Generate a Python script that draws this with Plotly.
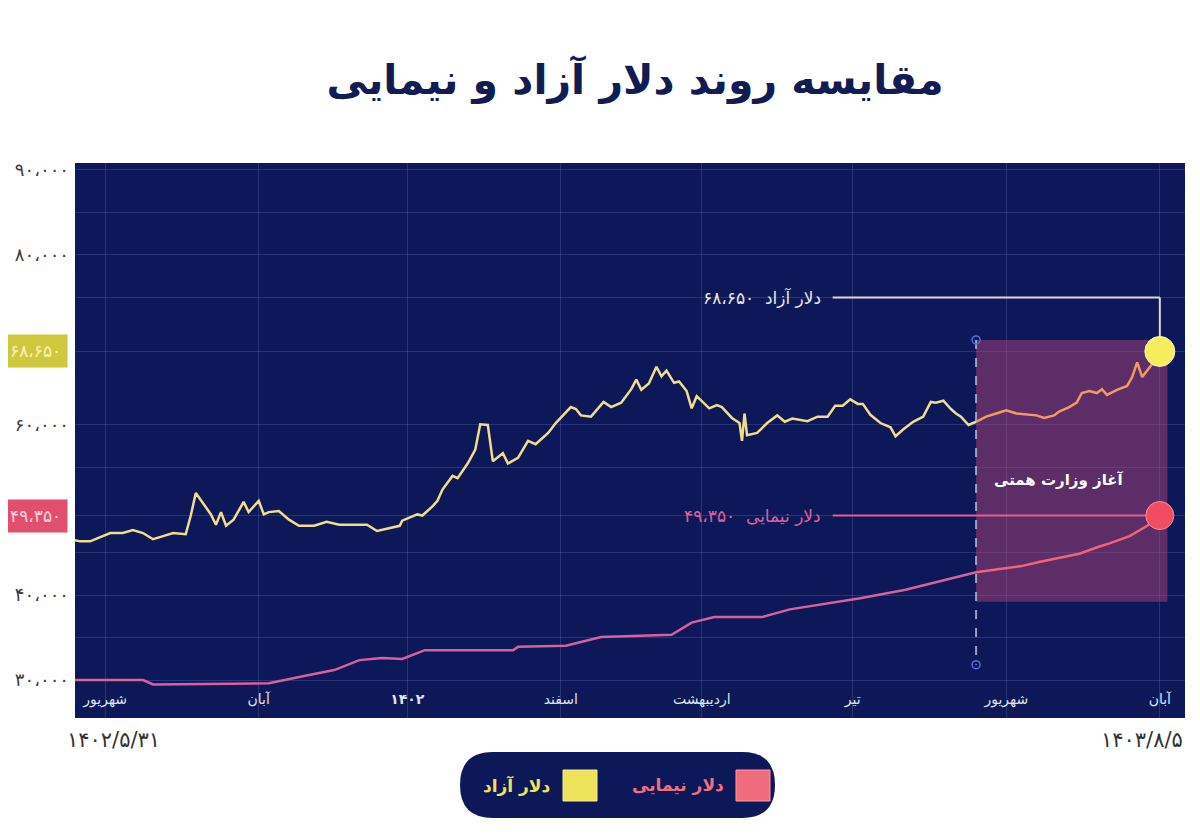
import plotly.graph_objects as go

# days counted from 1402/5/31, values in toman
free_days = [0, 2, 6, 11, 14, 19, 23, 27, 31, 35,
             39, 44, 46, 48, 51, 54, 56, 58, 60, 63,
             67, 69, 73, 75, 77, 81, 85, 89, 95, 100,
             105, 110, 116, 120, 124, 129, 130, 136, 138, 142,
             144, 146, 150, 152, 156, 159, 161, 164, 166, 170,
             172, 176, 180, 183, 188, 191, 197, 199, 201, 205,
             210, 213, 217, 221, 223, 225, 228, 231, 233, 235,
             238, 240, 243, 245, 247, 252, 255, 257, 261, 264,
             265, 266, 267, 271, 275, 279, 282, 285, 291, 295,
             299, 302, 305, 308, 311, 313, 316, 320, 324, 326,
             329, 333, 337, 340, 342, 345, 348, 350, 352, 355,
             358, 362, 366, 370, 374, 378, 382, 385, 389, 391,
             395, 398, 400, 403, 406, 408, 410, 414, 418, 420,
             422, 424, 427, 430, 431]
free_rate = [46440, 46310, 46310, 46920, 47290, 47290, 47650, 47290, 46560, 46920,
             47290, 47160, 49350, 52010, 50810, 49480, 48260, 49750, 48140, 48860,
             50950, 49750, 51080, 49480, 49750, 49880, 48860, 48140, 48140, 48620,
             48260, 48260, 48260, 47530, 47770, 48140, 48740, 49480, 49350, 50420,
             51080, 52410, 54010, 53740, 55470, 57070, 60080, 60000, 55740, 56670,
             55470, 56140, 58140, 57740, 59070, 60230, 62110, 61880, 61130, 60980,
             62710, 62110, 62630, 64210, 65340, 64140, 64890, 66850, 65720, 66390,
             64960, 65120, 63990, 61960, 63390, 61960, 62330, 62110, 60830, 60230,
             58140, 61350, 58800, 59070, 60230, 61130, 60380, 60750, 60450, 60980,
             60980, 62260, 62260, 63010, 62480, 62480, 61200, 60230, 59730, 58670,
             59470, 60380, 60980, 62710, 62630, 62860, 61880, 61350, 60980, 60000,
             60380, 60980, 61350, 61730, 61350, 61200, 61130, 60830, 61130, 61580,
             62110, 62630, 63760, 63990, 63760, 64210, 63540, 64140, 64590, 65640,
             67370, 65640, 66850, 67970, 68650]

nima_days = [0, 27, 31, 77, 92, 103, 113, 122, 130, 139,
             174, 176, 195, 209, 237, 245, 254, 273, 284, 312,
             330, 358, 376, 383, 399, 407, 411, 419, 426, 431]
nima_rate = [30000, 30000, 29480, 29610, 30520, 31170, 32340, 32600, 32470, 33510,
             33510, 33900, 34030, 35060, 35320, 36750, 37400, 37400, 38310, 39610,
             40610, 42670, 43400, 43890, 44860, 45710, 46070, 46930, 48140, 49350]

month_days = [12, 73, 132, 193, 249, 309, 370, 431]
month_labels = ["شهریور", "آبان", "<b>۱۴۰۲</b>", "اسفند", "اردیبهشت", "تیر", "شهریور", "آبان"]

y_grid = [30000, 35000, 40000, 45000, 49350, 55000, 60000, 68650, 75000, 80000, 85000, 90000]
y_labeled = [30000, 40000, 60000, 80000, 90000]

start_date = "۱۴۰۲/۵/۳۱"
end_date = "۱۴۰۳/۸/۵"
hemmati_day = 358

NAVY = "#0c1857"
GRID = "rgba(120,140,210,0.25)"
YELLOW = "#f2dc8e"
ORANGE = "#f39a62"
PINK = "#d8609c"
RED = "#f0647a"

FA = str.maketrans("0123456789,", "۰۱۲۳۴۵۶۷۸۹،")


def fa(n):
    return f"{n:,}".translate(FA)


def split_at(days, values, day):
    i = next(k for k, d in enumerate(days) if d >= day)
    return (days[:i + 1], values[:i + 1]), (days[i:], values[i:])


fig = go.Figure()

# Hemmati period shading and guide line
shade_top, shade_bottom, guide_bottom = 70000, 39200, 31800
shade_end = 434
fig.add_shape(type="rect", x0=hemmati_day, x1=shade_end, y0=shade_bottom, y1=shade_top,
              fillcolor="rgba(190,70,125,0.45)", line_width=0, layer="between")
fig.add_trace(go.Scatter(x=[hemmati_day, hemmati_day], y=[shade_top, guide_bottom],
                         mode="lines+markers",
                         line=dict(color="#9aa2bc", width=2, dash="dash"),
                         marker=dict(symbol="circle-open", size=8, color="#4f6fe8",
                                     line=dict(width=1.5)),
                         hoverinfo="skip"))

# connectors to the last values
label_day, line_day = 297, 301
free_label_y = 75000
fig.add_shape(type="line", x0=line_day, x1=free_days[-1], y0=free_label_y, y1=free_label_y,
              line=dict(color="#d9d9d9", width=2), layer="between")
fig.add_shape(type="line", x0=free_days[-1], x1=free_days[-1], y0=free_label_y, y1=free_rate[-1],
              line=dict(color="#d9d9d9", width=2), layer="between")
fig.add_shape(type="line", x0=line_day, x1=nima_days[-1], y0=nima_rate[-1], y1=nima_rate[-1],
              line=dict(color="#e0608e", width=2), layer="between")

# series, recoloured inside the shaded period
(f_before, f_after) = split_at(free_days, free_rate, hemmati_day)
(n_before, n_after) = split_at(nima_days, nima_rate, hemmati_day)
fig.add_trace(go.Scatter(x=n_before[0], y=n_before[1], mode="lines",
                         line=dict(color=PINK, width=2.5), name="دلار نیمایی"))
fig.add_trace(go.Scatter(x=n_after[0], y=n_after[1], mode="lines",
                         line=dict(color=RED, width=2.5), showlegend=False))
fig.add_trace(go.Scatter(x=f_before[0], y=f_before[1], mode="lines",
                         line=dict(color=YELLOW, width=2.5), name="دلار آزاد"))
fig.add_trace(go.Scatter(x=f_after[0], y=f_after[1], mode="lines",
                         line=dict(color=ORANGE, width=2.5), showlegend=False))
fig.add_trace(go.Scatter(x=[free_days[-1]], y=[free_rate[-1]], mode="markers",
                         marker=dict(size=30, color="#f7ec5c", line=dict(color="#fff6c0", width=1))))
fig.add_trace(go.Scatter(x=[nima_days[-1]], y=[nima_rate[-1]], mode="markers",
                         marker=dict(size=28, color="#f04c62", line=dict(color="#ff8a9a", width=1))))

# labels on the chart
fig.add_annotation(x=label_day, y=free_label_y, xanchor="right", yanchor="middle",
                   showarrow=False, text="دلار آزاد  " + fa(free_rate[-1]),
                   font=dict(size=17, color="#e6e6e6"))
fig.add_annotation(x=label_day, y=nima_rate[-1], xanchor="right", yanchor="middle",
                   showarrow=False, text="دلار نیمایی  " + fa(nima_rate[-1]),
                   font=dict(size=17, color="#e0609a"))
fig.add_annotation(x=391, y=53500, showarrow=False, yanchor="middle",
                   text="<b>آغاز وزارت همتی</b>", font=dict(size=15, color="white"))

# highlighted values on the y axis
fig.add_annotation(xref="paper", x=0, xanchor="right", xshift=-7, y=free_rate[-1],
                   yanchor="middle", text=fa(free_rate[-1]), showarrow=False,
                   bgcolor="#cdc83c", borderpad=6, font=dict(size=17, color="#f7f4b4"))
fig.add_annotation(xref="paper", x=0, xanchor="right", xshift=-7, y=nima_rate[-1],
                   yanchor="middle", text=fa(nima_rate[-1]), showarrow=False,
                   bgcolor="#e24f6c", borderpad=6, font=dict(size=17, color="#ffd6de"))


# page pixel -> paper helpers (plot area spans x 75..1185, y 163..718 on the page)
def xp(px):
    return (px - 75) / 1110


def yp(py):
    return (718 - py) / 555


# dates under the axis
fig.add_annotation(xref="paper", yref="paper", x=xp(65), y=yp(740), xanchor="left",
                   yanchor="middle", text=start_date, showarrow=False,
                   font=dict(size=21, color="#333"))
fig.add_annotation(xref="paper", yref="paper", x=1, y=yp(740), xanchor="right",
                   yanchor="middle", text=end_date, showarrow=False,
                   font=dict(size=21, color="#333"))

# custom legend pill below the plot
L, R, T, B, r = 460, 775, 752, 818, 33
pill = (f"M {xp(L + r)} {yp(T)} L {xp(R - r)} {yp(T)} "
        f"Q {xp(R)} {yp(T)} {xp(R)} {yp(T + r)} Q {xp(R)} {yp(B)} {xp(R - r)} {yp(B)} "
        f"L {xp(L + r)} {yp(B)} Q {xp(L)} {yp(B)} {xp(L)} {yp(B - r)} "
        f"Q {xp(L)} {yp(T)} {xp(L + r)} {yp(T)} Z")
fig.add_shape(type="path", path=pill, xref="paper", yref="paper",
              fillcolor=NAVY, line_width=0)
fig.add_shape(type="rect", xref="paper", yref="paper", x0=xp(563), x1=xp(597),
              y0=yp(770), y1=yp(801), fillcolor="#eee35a", line=dict(color="#f6ee90", width=1))
fig.add_shape(type="rect", xref="paper", yref="paper", x0=xp(736), x1=xp(770),
              y0=yp(770), y1=yp(801), fillcolor="#f06c7c", line=dict(color="#ff98a4", width=1))
fig.add_annotation(xref="paper", yref="paper", x=xp(517), y=yp(785), yanchor="middle",
                   showarrow=False, text="<b>دلار آزاد</b>",
                   font=dict(size=17, color="#f1e25c"))
fig.add_annotation(xref="paper", yref="paper", x=xp(678), y=yp(785), yanchor="middle",
                   showarrow=False, text="<b>دلار نیمایی</b>",
                   font=dict(size=17, color="#f0707e"))

fig.update_xaxes(range=[0, 441], tickvals=month_days, ticktext=month_labels,
                 ticklabelposition="inside", ticklabelstandoff=8, ticks="",
                 ticklabeloverflow="allow", automargin=False,
                 tickfont=dict(size=14, color="#dfe3f2"),
                 showgrid=True, gridcolor=GRID, zeroline=False, showline=False)
fig.update_yaxes(range=[25530, 90820], tickvals=y_grid,
                 ticktext=[fa(v) if v in y_labeled else "" for v in y_grid],
                 ticks="", ticklabelstandoff=5, automargin=False,
                 tickfont=dict(size=18, color="#3a3a3a"),
                 showgrid=True, gridcolor=GRID, zeroline=False, showline=False)

# the page adds an 8px body margin, so the figure box is shifted by 8px
fig.update_layout(
    width=1200, height=836,
    margin=dict(l=67, r=23, t=155, b=126),
    paper_bgcolor="white", plot_bgcolor=NAVY,
    showlegend=False,
    font=dict(family="DejaVu Sans", color="#333"),
    title=dict(text="<b>مقایسه روند دلار آزاد و نیمایی</b>",
               x=0.5225, y=0.914, xanchor="center", yanchor="middle",
               font=dict(size=41, color="#101c52")))

fig.write_html("out.html")
